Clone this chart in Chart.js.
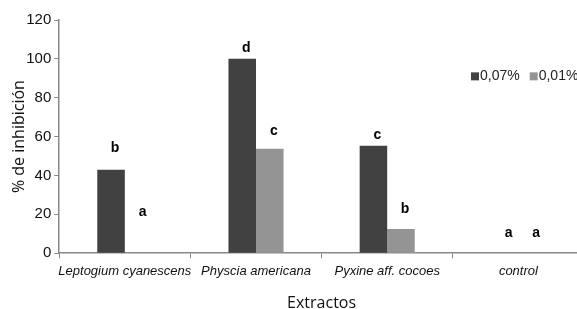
<!DOCTYPE html>
<html>
<head>
<meta charset="utf-8">
<script src="https://cdn.jsdelivr.net/npm/chart.js@4"></script>
<style>
  html, body { margin: 0; padding: 0; background: #fff; overflow: hidden; }
  #wrap { width: 590px; height: 313px; }
</style>
</head>
<body>
<div id="wrap"><canvas id="inhChart"></canvas></div>
<script>
const extractos = ["Leptogium cyanescens", "Physcia americana", "Pyxine aff. cocoes", "control"];
const conc07 = [43, 100, 55.3, 0];
const conc01 = [0, 53.8, 12.4, 0];
const letters07 = ["b", "d", "c", "a"];
const letters01 = ["a", "c", "b", "a"];
// height (in % units) where each letter sits
const letterY07 = [54.3, 105.5, 61, 10.3];
const letterY01 = [21.2, 62.6, 22.8, 10.3];
const yTicks = [0, 20, 40, 60, 80, 100, 120];

const letterPlugin = {
  id: "letters",
  afterDatasetsDraw(chart) {
    const ctx = chart.ctx;
    const y = chart.scales.y;
    ctx.save();
    ctx.font = "bold 14px 'Liberation Sans', Arial, sans-serif";
    ctx.fillStyle = "#000";
    ctx.textAlign = "center";
    ctx.textBaseline = "middle";
    [[letters07, letterY07], [letters01, letterY01]].forEach((pair, di) => {
      const meta = chart.getDatasetMeta(di);
      meta.data.forEach((bar, i) => {
        ctx.fillText(pair[0][i], bar.x + 4, y.getPixelForValue(pair[1][i]));
      });
    });
    ctx.restore();
  }
};

const legendPlugin = {
  id: "sideLegend",
  afterDraw(chart) {
    const ctx = chart.ctx;
    ctx.save();
    ctx.font = "14px 'Liberation Sans', Arial, sans-serif";
    ctx.textBaseline = "middle";
    let x = 471;
    const yy = chart.scales.y.getPixelForValue(91);
    chart.data.datasets.forEach((ds) => {
      ctx.fillStyle = ds.backgroundColor;
      ctx.fillRect(x, yy - 4, 8, 8);
      ctx.fillStyle = "#222";
      ctx.fillText(ds.label, x + 9, yy);
      x += 9 + ctx.measureText(ds.label).width + 10;
    });
    ctx.restore();
  }
};

new Chart(document.getElementById("inhChart"), {
  type: "bar",
  data: {
    labels: extractos,
    datasets: [
      { label: "0,07%", data: conc07, backgroundColor: "#414141" },
      { label: "0,01%", data: conc01, backgroundColor: "#949494" }
    ]
  },
  options: {
    responsive: true,
    maintainAspectRatio: false,
    animation: false,
    layout: { padding: { top: 20, right: 6, left: 10, bottom: 0 } },
    datasets: { bar: { categoryPercentage: 0.42, barPercentage: 1.0 } },
    plugins: {
      legend: { display: false },
      tooltip: { enabled: false }
    },
    scales: {
      x: {
        grid: { display: true, drawOnChartArea: false, offset: true, color: "#888", tickLength: 5 },
        border: { color: "#888", width: 1.5 },
        ticks: { color: "#111", maxRotation: 0, minRotation: 0, autoSkip: false,
                 font: { family: "'Liberation Sans', Arial", size: 13, style: "italic" }, padding: 5 },
        title: { display: true, text: "Extractos", color: "#111", font: { family: "'Open Sans'", size: 16 }, padding: { top: 10, bottom: 0 } }
      },
      y: {
        min: 0,
        max: 120,
        afterBuildTicks(axis) { axis.ticks = yTicks.map(v => ({ value: v })); },
        grid: { display: true, drawOnChartArea: false, color: "#888", tickLength: 5 },
        border: { color: "#888", width: 1.5 },
        ticks: { color: "#111", font: { family: "'Liberation Sans', Arial", size: 15 }, padding: 3 },
        title: { display: true, text: "% de inhibición", color: "#111", font: { family: "'Open Sans'", size: 16 }, padding: { top: 0, bottom: -6 } }
      }
    }
  },
  plugins: [letterPlugin, legendPlugin]
});
</script>
</body>
</html>
